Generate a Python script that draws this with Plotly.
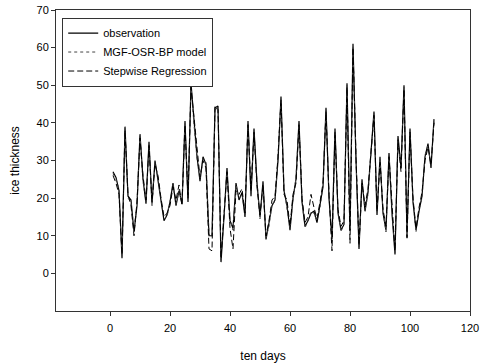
import plotly.graph_objects as go

days = list(range(1, 109))

observation = [
    27, 25.5, 22, 4, 39, 20.5, 19.5, 11, 18, 37,
    25, 18.5, 35, 18.5, 30, 25, 19, 14, 15.5, 19,
    24, 18, 22, 18.5, 40.5, 19, 50.5, 40, 31, 24.5,
    31, 29, 10, 10, 44, 44.5, 3, 15, 28, 14,
    12, 24, 19.5, 21.5, 15, 40.5, 20.5, 38.5, 24, 15,
    24.5, 9, 13, 18, 19.5, 30, 47, 22, 18, 11.5,
    20, 25, 40.5, 19, 12.5, 14, 16, 16.5, 13.5, 18,
    23, 44, 20, 9, 38.5, 16, 11.5, 13, 50.5, 11.5,
    61, 30, 6.5, 25, 16.5, 21.5, 31.5, 43, 15.5, 31,
    16, 11.5, 32, 16, 5, 36.5, 28, 50, 10, 38.5,
    19, 11.5, 16.5, 20.5, 31, 34.5, 28, 41,
]

mgf_osr_bp = [
    26.5, 25, 22.5, 4.5, 38.5, 20, 19, 11.5, 18.5, 36.5,
    24.5, 19, 34.5, 18, 29.5, 25.5, 19.5, 14.5, 15, 19.5,
    23.5, 18.5, 21.5, 19, 40, 19.5, 50, 39.5, 30.5, 25,
    30.5, 29.5, 10.5, 9.5, 43.5, 44, 3.5, 15.5, 27.5, 14.5,
    11.5, 23.5, 20, 21, 15.5, 40, 21, 38, 24.5, 14.5,
    24, 9.5, 12.5, 18.5, 19, 30.5, 46.5, 22.5, 17.5, 12,
    19.5, 25.5, 40, 19.5, 12, 14.5, 16.5, 16, 14, 17.5,
    23.5, 43.5, 20.5, 8.5, 38, 16.5, 11, 13.5, 50, 11,
    60.5, 30.5, 7, 24.5, 17, 21, 31, 42.5, 16, 30.5,
    16.5, 11, 31.5, 16.5, 5.5, 36, 28.5, 49.5, 9, 38,
    19.5, 11, 17, 20, 31.5, 34, 28.5, 40.5,
]

stepwise = [
    26, 24, 21, 5, 38, 21, 18, 10, 19, 36,
    26, 19.5, 34, 19, 29, 26, 20, 15, 16, 18,
    23, 19.5, 23.5, 18, 39.5, 20, 49.5, 41, 32, 25.5,
    30, 28, 6.5, 6, 44.5, 43.5, 4, 16, 27, 12,
    6.5, 22, 21, 22.5, 16, 39.5, 22, 37.5, 23, 15.5,
    23.5, 10, 14, 19.5, 20.5, 31, 46, 21, 19.5, 12.5,
    21, 24, 39.5, 20, 13.5, 15, 21, 17.5, 14.5, 19,
    24, 43, 21, 6, 37.5, 17, 12.5, 14, 49.5, 8,
    60, 31, 7.5, 24, 18, 22.5, 32, 42, 16.5, 29.5,
    17, 12.5, 31, 17, 6, 35.5, 27, 49, 9.5, 37.5,
    20, 12, 17.5, 21.5, 30, 33.5, 29, 40,
]

x_ticks = [0, 20, 40, 60, 80, 100, 120]
y_ticks = [0, 10, 20, 30, 40, 50, 60, 70]

fig = go.Figure()
fig.add_trace(go.Scatter(x=days, y=observation, mode="lines", name="observation",
                         line=dict(color="black", width=1.2, dash="solid")))
fig.add_trace(go.Scatter(x=days, y=mgf_osr_bp, mode="lines", name="MGF-OSR-BP model",
                         line=dict(color="#444444", width=1, dash="dot")))
fig.add_trace(go.Scatter(x=days, y=stepwise, mode="lines", name="Stepwise Regression",
                         line=dict(color="black", width=1, dash="6px,3px")))

fig.update_layout(
    width=480, height=363,
    margin=dict(l=56, r=10, t=10, b=52, autoexpand=False),
    paper_bgcolor="white", plot_bgcolor="white",
    font=dict(family="Liberation Sans, Arial, sans-serif", size=11, color="black"),
    showlegend=True,
    legend=dict(x=0.015, y=0.975, xanchor="left", yanchor="top",
                bordercolor="#333333", borderwidth=1, bgcolor="white",
                font=dict(size=11), tracegroupgap=0, itemwidth=30),
)
fig.update_xaxes(range=[-18, 120], tickvals=x_ticks, ticks="outside", ticklen=4,
                 showgrid=False, zeroline=False, showline=True, linecolor="#333333",
                 linewidth=1, mirror=True, tickcolor="#333333", automargin=False,
                 ticklabelstandoff=3,
                 title=dict(text="ten days", font=dict(size=12), standoff=18))
fig.update_yaxes(range=[-10, 70], tickvals=y_ticks, ticks="outside", ticklen=4,
                 showgrid=False, zeroline=False, showline=True, linecolor="#333333",
                 linewidth=1, mirror=True, tickcolor="#333333", automargin=False,
                 title=dict(text="ice thickness", font=dict(size=12), standoff=14))

fig.write_html("out.html", config={"displayModeBar": False},
               post_script="document.body.style.margin='0';document.body.style.overflow='hidden';")
